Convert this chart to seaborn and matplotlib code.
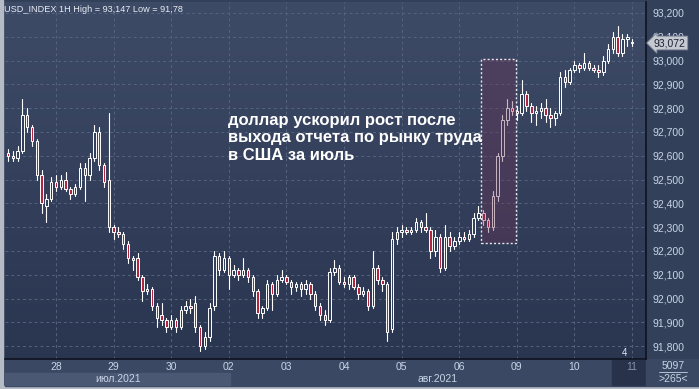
import numpy as np
import pandas as pd
import matplotlib
matplotlib.use("Agg")
import matplotlib.pyplot as plt
import matplotlib.transforms as mtransforms
from matplotlib.patches import Rectangle
from matplotlib.colors import LinearSegmentedColormap
import seaborn as sns

# ---------------- data (2-hour candles) ----------------
opens = [92.61, 92.60, 92.59, 92.62, 92.77, 92.72, 92.66, 92.52, 92.39, 92.42,
         92.49, 92.47, 92.50, 92.46, 92.44, 92.47, 92.55, 92.52, 92.59, 92.70,
         92.56, 92.50, 92.30, 92.28, 92.27, 92.23, 92.17, 92.17, 92.09, 92.03,
         92.04, 91.97, 91.93, 91.91, 91.88, 91.91, 91.88, 91.95, 91.97, 91.98,
         91.88, 91.80, 91.84, 91.97, 92.18, 92.12, 92.17, 92.10, 92.12, 92.10,
         92.12, 92.09, 92.03, 91.94, 91.96, 92.06, 92.02, 92.08, 92.09, 92.07,
         92.05, 92.06, 92.04, 92.06, 92.02, 91.97, 91.93, 91.91, 92.11, 92.13,
         92.07, 92.06, 92.09, 92.05, 92.02, 92.03, 91.97, 92.13, 92.08, 92.06,
         91.87, 92.25, 92.28, 92.29, 92.28, 92.29, 92.32, 92.30, 92.29, 92.20,
         92.26, 92.13, 92.26, 92.22, 92.24, 92.26, 92.25, 92.27, 92.34, 92.36,
         92.33, 92.30, 92.43, 92.60, 92.75, 92.80, 92.79, 92.78, 92.86, 92.81,
         92.78, 92.79, 92.80, 92.77, 92.76, 92.78, 92.93, 92.91, 92.96, 92.98,
         92.97, 92.99, 92.97, 92.96, 92.95, 93.00, 93.05, 93.10, 93.03, 93.09,
         93.08]
highs = [92.63, 92.62, 92.64, 92.84, 92.80, 92.73, 92.67, 92.54, 92.44, 92.51,
         92.52, 92.52, 92.53, 92.47, 92.48, 92.57, 92.57, 92.61, 92.73, 92.72,
         92.57, 92.78, 92.31, 92.30, 92.28, 92.24, 92.18, 92.19, 92.10, 92.06,
         92.05, 91.98, 91.98, 91.92, 91.93, 91.92, 91.97, 91.99, 92.00, 92.01,
         91.89, 91.86, 91.98, 92.20, 92.19, 92.20, 92.18, 92.14, 92.13, 92.17,
         92.13, 92.10, 92.04, 91.97, 92.08, 92.07, 92.10, 92.12, 92.10, 92.08,
         92.07, 92.07, 92.08, 92.07, 92.03, 91.98, 91.95, 92.13, 92.16, 92.14,
         92.09, 92.10, 92.10, 92.06, 92.05, 92.04, 92.20, 92.14, 92.09, 92.07,
         92.28, 92.30, 92.31, 92.30, 92.30, 92.34, 92.33, 92.36, 92.30, 92.29,
         92.27, 92.31, 92.28, 92.26, 92.28, 92.28, 92.29, 92.36, 92.39, 92.37,
         92.34, 92.45, 92.61, 92.77, 92.84, 92.83, 92.81, 92.92, 92.87, 92.82,
         92.81, 92.82, 92.84, 92.80, 92.79, 92.95, 92.96, 92.97, 93.00, 92.99,
         93.03, 93.00, 92.98, 92.98, 93.02, 93.07, 93.12, 93.147, 93.11, 93.11,
         93.09]
lows = [92.58, 92.58, 92.58, 92.61, 92.70, 92.64, 92.50, 92.36, 92.32, 92.41,
        92.45, 92.46, 92.45, 92.42, 92.43, 92.46, 92.41, 92.50, 92.58, 92.54,
        92.47, 92.28, 92.25, 92.26, 92.21, 92.15, 92.12, 92.08, 91.99, 92.02,
        91.95, 91.88, 91.89, 91.86, 91.87, 91.86, 91.87, 91.94, 91.94, 91.86,
        91.78, 91.79, 91.82, 91.95, 92.10, 92.11, 92.04, 92.09, 92.08, 92.09,
        92.07, 92.01, 91.92, 91.92, 91.95, 91.95, 92.01, 92.07, 92.06, 92.02,
        92.03, 92.01, 92.02, 92.00, 91.95, 91.91, 91.89, 91.90, 92.10, 92.06,
        92.05, 92.04, 92.04, 92.00, 92.01, 91.95, 91.96, 92.06, 92.03, 91.82,
        91.86, 92.23, 92.26, 92.27, 92.27, 92.28, 92.28, 92.28, 92.17, 92.18,
        92.11, 92.12, 92.20, 92.21, 92.23, 92.24, 92.24, 92.26, 92.33, 92.31,
        92.28, 92.29, 92.41, 92.58, 92.73, 92.77, 92.75, 92.77, 92.79, 92.74,
        92.73, 92.76, 92.74, 92.72, 92.73, 92.77, 92.89, 92.90, 92.95, 92.95,
        92.96, 92.96, 92.95, 92.93, 92.94, 92.99, 93.03, 93.02, 93.02, 93.06,
        93.06]
closes = [92.60, 92.59, 92.62, 92.77, 92.72, 92.66, 92.52, 92.40, 92.42, 92.49,
          92.47, 92.50, 92.46, 92.44, 92.47, 92.55, 92.52, 92.59, 92.70, 92.56,
          92.49, 92.30, 92.28, 92.27, 92.23, 92.17, 92.16, 92.09, 92.03, 92.04,
          91.97, 91.92, 91.91, 91.88, 91.91, 91.88, 91.95, 91.97, 91.96, 91.88,
          91.80, 91.84, 91.96, 92.18, 92.12, 92.17, 92.10, 92.12, 92.10, 92.12,
          92.09, 92.03, 91.94, 91.96, 92.06, 92.02, 92.08, 92.09, 92.07, 92.05,
          92.06, 92.04, 92.06, 92.02, 91.97, 91.93, 91.91, 92.11, 92.13, 92.07,
          92.06, 92.09, 92.05, 92.02, 92.03, 91.97, 92.13, 92.08, 92.06, 91.86,
          92.25, 92.28, 92.29, 92.28, 92.29, 92.32, 92.30, 92.29, 92.20, 92.26,
          92.13, 92.26, 92.22, 92.24, 92.26, 92.25, 92.27, 92.34, 92.36, 92.33,
          92.30, 92.43, 92.60, 92.75, 92.80, 92.79, 92.78, 92.86, 92.81, 92.78,
          92.79, 92.80, 92.77, 92.76, 92.78, 92.93, 92.91, 92.96, 92.98, 92.97,
          92.99, 92.97, 92.96, 92.95, 93.00, 93.05, 93.10, 93.03, 93.09, 93.10,
          93.072]

day_positions = [10, 22, 34, 46, 58, 70, 82, 94, 106, 118, 130]
day_labels = ["28", "29", "30", "02", "03", "04", "05", "06", "09", "10", "11"]
month_labels = ["июл.2021", "авг.2021"]
month_centers = [22.9, 89.5]
price_ticks = [91.8, 91.9, 92.0, 92.1, 92.2, 92.3, 92.4, 92.5, 92.6, 92.7,
               92.8, 92.9, 93.0, 93.1, 93.2]
highlight_x = [98.5, 105.8]
highlight_y = [92.234, 93.007]
title_text = "USD_INDEX 1H High = 93,147 Low = 91,78"
note_text = "доллар ускорил рост после\nвыхода отчета по рынку труда\nв США за июль"
last_price = "93,072"

df = pd.DataFrame({"open": opens, "high": highs, "low": lows, "close": closes})
df["idx"] = np.arange(len(df))
df["bear"] = df["close"] < df["open"]

# ---------------- figure ----------------
sns.set_style("dark")
plt.rcParams["font.family"] = ["Liberation Sans", "DejaVu Sans"]

W, H = 699, 389
fig = plt.figure(figsize=(W / 100, H / 100), dpi=100)
fig.patch.set_facecolor("#33405a")


def fx(px):
    return px / W


def fy(py):
    return 1 - py / H


BG_TOP = "#3e4b67"
BG_BOT = "#2a3550"
TXT = "#c9d4e6"

ax = fig.add_axes([fx(5), fy(359), fx(646) - fx(5), fy(2) - fy(359)])
ax.set_zorder(2)
xmin, xmax = -0.625, 132.9
ymin, ymax = 91.746, 93.246
ax.set_xlim(xmin, xmax)
ax.set_ylim(ymin, ymax)

# gradient background
cmap = LinearSegmentedColormap.from_list("bg", [BG_BOT, BG_TOP])
grad = np.linspace(0, 1, 256).reshape(-1, 1)
ax.imshow(grad, extent=[xmin, xmax, ymin, ymax], origin="lower", aspect="auto",
          cmap=cmap, zorder=0)

# grid
for p in price_ticks:
    ax.axhline(p, color="#56637e", lw=0.7, ls=(0, (3, 3)), zorder=1)
for d in day_positions:
    ax.axvline(d, color="#56637e", lw=0.7, ls=(0, (3, 3)), zorder=1)

# wicks with seaborn
wick = pd.concat([
    pd.DataFrame({"idx": df["idx"], "price": df["low"]}),
    pd.DataFrame({"idx": df["idx"], "price": df["high"]}),
]).sort_values("idx")
sns.lineplot(data=wick, x="idx", y="price", units="idx", estimator=None,
             color="white", lw=0.8, sort=False, ax=ax, zorder=2, legend=False)

# bodies
bottoms = np.minimum(df["open"], df["close"])
heights = np.maximum(np.abs(df["close"] - df["open"]), 0.004)
faces = np.where(df["bear"], "#b3243f", "#33405b")
ax.bar(df["idx"], heights, bottom=bottoms, width=0.52, color=faces,
       edgecolor="white", linewidth=0.7, zorder=3)

# highlight rectangle
ax.add_patch(Rectangle((highlight_x[0], highlight_y[0]),
                       highlight_x[1] - highlight_x[0],
                       highlight_y[1] - highlight_y[0],
                       facecolor="#6c3356", alpha=0.36, edgecolor="none", zorder=4))
ax.add_patch(Rectangle((highlight_x[0], highlight_y[0]),
                       highlight_x[1] - highlight_x[0],
                       highlight_y[1] - highlight_y[0],
                       facecolor="none", edgecolor="#e8e8ec", lw=1.0,
                       ls=(0, (1.5, 1.5)), zorder=5))

ax.set_xlabel("")
ax.set_ylabel("")

# ticks
ax.yaxis.tick_right()
ax.set_yticks(price_ticks)
ax.set_yticklabels([f"{p:.3f}".replace(".", ",") for p in price_ticks])
ax.set_xticks(day_positions)
ax.set_xticklabels(day_labels)
ax.tick_params(axis="y", length=0, pad=5, labelsize=7.5, colors=TXT)
ax.tick_params(axis="x", length=0, pad=2.5, labelsize=7.5, colors=TXT)
ax.get_xticklabels()[-1].set_color("#8492aa")

for s in ["top", "left"]:
    ax.spines[s].set_visible(False)
for s in ["right", "bottom"]:
    ax.spines[s].set_color("#0e1320")
    ax.spines[s].set_linewidth(1.2)
ax.grid(False)

# title and annotation
fig.text(fx(4), fy(9), title_text, color="#e8ecf4", fontsize=6.6,
         va="center", ha="left", zorder=5)
fig.text(fx(228), fy(138), note_text, color="white", fontsize=12.0,
         fontweight="bold", va="center", ha="left", linespacing=1.2, zorder=5)

# outer frame (left and bottom light border)
fig.add_artist(Rectangle((0, 0), fx(3), 1, transform=fig.transFigure,
                         color="#b6bcc6", zorder=0))
fig.add_artist(Rectangle((0, 0), 1, fy(386), transform=fig.transFigure,
                         color="#b6bcc6", zorder=0))
# bottom strips
fig.add_artist(Rectangle((fx(5), fy(386)), fx(646) - fx(5), fy(359) - fy(386),
                         transform=fig.transFigure, color="#3b4863", zorder=1))
fig.add_artist(Rectangle((fx(5), fy(385)), fx(230) - fx(5), fy(373) - fy(385),
                         transform=fig.transFigure, color="#4b5874", zorder=1))
fig.add_artist(Rectangle((fx(612), fy(385)), fx(646) - fx(612), fy(360) - fy(385),
                         transform=fig.transFigure, color="#28334b", zorder=1))
fig.add_artist(Rectangle((fx(646), fy(386)), fx(699) - fx(646), fy(359) - fy(386),
                         transform=fig.transFigure, color="#3b4863", zorder=1))

blend = mtransforms.blended_transform_factory(ax.transData, fig.transFigure)
for c, lab in zip(month_centers, month_labels):
    ax.text(c, fy(379), lab, transform=blend, color=TXT, fontsize=7.5,
            ha="center", va="center", clip_on=False)

fig.text(fx(673), fy(366), "5097", color=TXT, fontsize=7.5, ha="center",
         va="center", zorder=5)
fig.add_artist(plt.Line2D([fx(659), fx(687)], [fy(372), fy(372)],
                          transform=fig.transFigure, color=TXT, lw=0.6, zorder=5))
fig.text(fx(673), fy(379), ">265<", color=TXT, fontsize=7.5, ha="center",
         va="center", zorder=5)
fig.text(fx(624), fy(353), "4", color="#e0e6f0", fontsize=7, ha="center",
         va="center", zorder=5)

# last price tag (drawn over the 93,100 label as in the original)
fig.text(fx(654), fy(43), last_price, color="#1c2233", fontsize=7.5,
         ha="left", va="center", zorder=6,
         bbox=dict(boxstyle="larrow,pad=0.18", fc="#c5c9d1", ec="#7d8596", lw=0.6))

fig.savefig("out.png", dpi=100, facecolor=fig.get_facecolor())
